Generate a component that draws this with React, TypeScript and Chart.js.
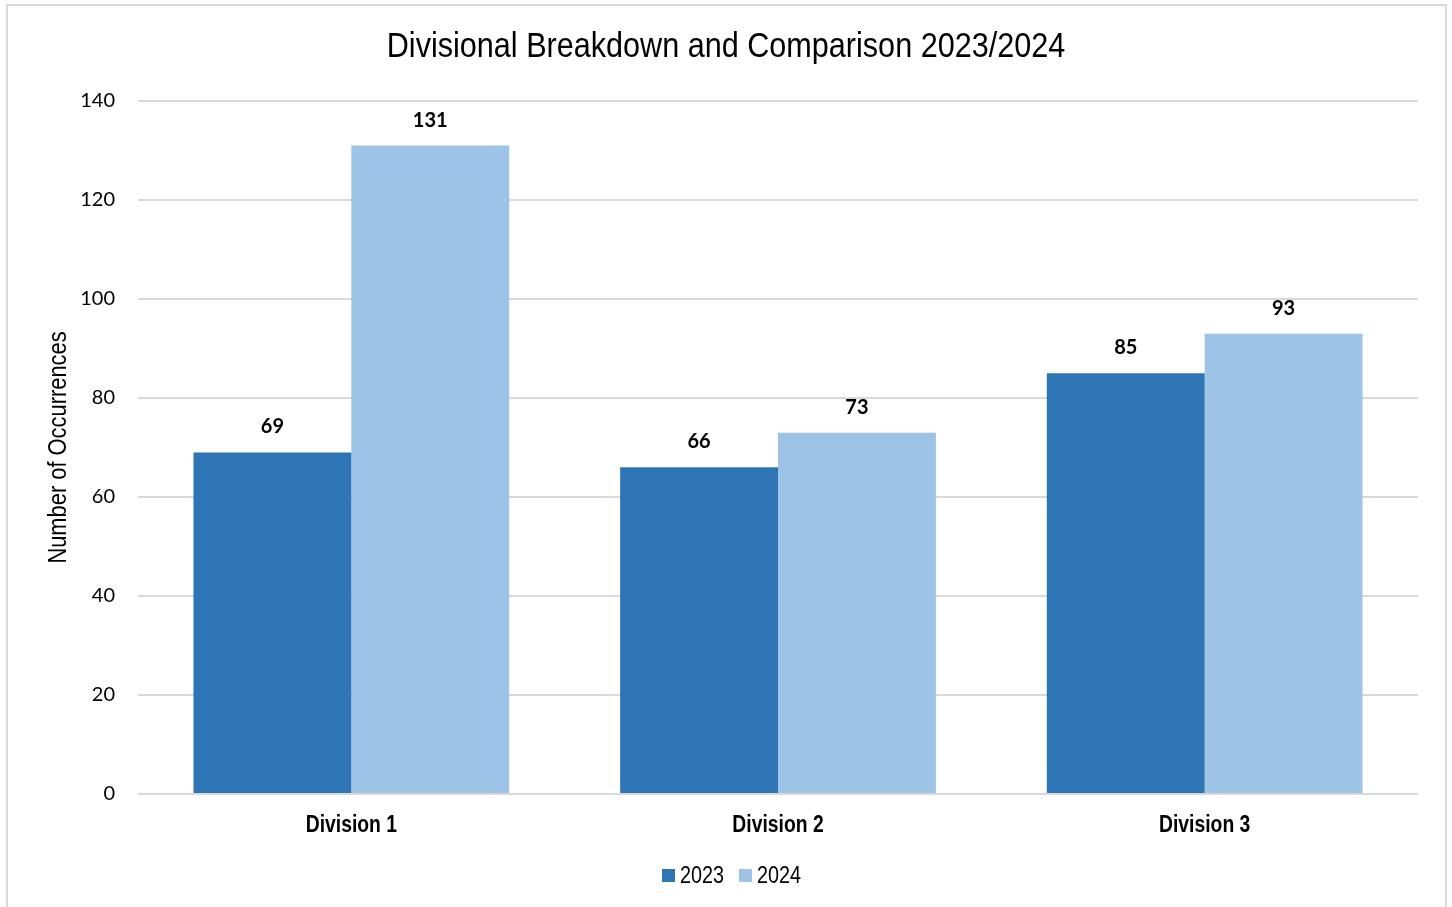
import React, { useEffect, useRef } from "react";
import { Chart, registerables } from "chart.js";

Chart.register(...registerables);

const categories = ["Division 1", "Division 2", "Division 3"];
const series2023 = [69, 66, 85];
const series2024 = [131, 73, 93];
const seriesLabels = ["2023", "2024"];
const seriesColors = ["#2E75B6", "#9DC3E6"];
const yTicks = [0, 20, 40, 60, 80, 100, 120, 140];
const chartTitle = "Divisional Breakdown and Comparison 2023/2024";
const yAxisTitle = "Number of Occurrences";

const SANS = "'Liberation Sans', Arial, sans-serif";
const BODY = "Lato, 'Open Sans', sans-serif";

function drawNarrow(ctx: any, text: string, x: number, y: number, sx: number, font: string, align: CanvasTextAlign, rotate = 0) {
  ctx.save();
  ctx.font = font;
  ctx.fillStyle = "#000";
  ctx.textAlign = align;
  ctx.textBaseline = "alphabetic";
  ctx.translate(x, y);
  if (rotate) ctx.rotate(rotate);
  ctx.scale(sx, 1);
  ctx.fillText(text, 0, 0);
  ctx.restore();
}

const textPlugin = {
  id: "narrowText",
  afterDraw(chart: any) {
    const ctx = chart.ctx;
    const area = chart.chartArea;
    // title
    drawNarrow(ctx, chartTitle, (6 + 1446) / 2, 57, 0.874, `35px ${SANS}`, "center");
    // y axis title
    drawNarrow(ctx, yAxisTitle, 66, (area.top + area.bottom) / 2, 0.875, `25px ${SANS}`, "center", -Math.PI / 2);
    // category labels
    const xs = chart.scales.x;
    categories.forEach((c, i) => {
      drawNarrow(ctx, c, xs.getPixelForTick(i), 832, 0.84, `bold 23px ${SANS}`, "center");
    });
    // legend
    ctx.save();
    ctx.font = `23px ${SANS}`;
    const boxes = [662, 739];
    seriesLabels.forEach((lab, i) => {
      ctx.fillStyle = seriesColors[i];
      ctx.fillRect(boxes[i], 869, 13, 13);
      drawNarrow(ctx, lab, boxes[i] + 18, 883, 0.86, `23px ${SANS}`, "left");
    });
    ctx.restore();
  },
  afterDatasetsDraw(chart: any) {
    const ctx = chart.ctx;
    ctx.save();
    ctx.font = `bold 20px ${BODY}`;
    ctx.fillStyle = "#000";
    ctx.textAlign = "center";
    ctx.textBaseline = "alphabetic";
    chart.data.datasets.forEach((ds: any, i: number) => {
      const meta = chart.getDatasetMeta(i);
      meta.data.forEach((bar: any, j: number) => {
        ctx.fillText(String(ds.data[j]), bar.x, bar.y - 19);
      });
    });
    ctx.restore();
  },
};

export default function App() {
  const ref = useRef<HTMLCanvasElement | null>(null);

  useEffect(() => {
    if (!ref.current) return;
    const chart = new Chart(ref.current, {
      type: "bar",
      data: {
        labels: categories,
        datasets: [
          {
            label: seriesLabels[0],
            data: series2023,
            backgroundColor: seriesColors[0],
            categoryPercentage: 0.74,
            barPercentage: 1,
          },
          {
            label: seriesLabels[1],
            data: series2024,
            backgroundColor: seriesColors[1],
            categoryPercentage: 0.74,
            barPercentage: 1,
          },
        ],
      },
      options: {
        animation: false,
        responsive: false,
        maintainAspectRatio: false,
        layout: { padding: { left: 20, right: 34, top: 101, bottom: 0 } },
        plugins: {
          title: { display: false },
          legend: { display: false },
          tooltip: { enabled: false },
        },
        scales: {
          x: {
            grid: { display: false, drawTicks: false },
            border: { display: false },
            ticks: { display: false },
            afterFit: (scale: any) => {
              scale.height = 113;
            },
          },
          y: {
            min: 0,
            max: 140,
            afterBuildTicks: (scale: any) => {
              scale.ticks = yTicks.map((v) => ({ value: v }));
            },
            afterFit: (scale: any) => {
              scale.width = 118;
            },
            grid: { color: "#D9D9D9", lineWidth: 2, drawTicks: false },
            border: { display: false },
            ticks: {
              color: "#000",
              font: { family: BODY, size: 20 },
              padding: 23,
            },
          },
        },
      },
      plugins: [textPlugin],
    });
    return () => chart.destroy();
  }, []);

  return (
    <div style={{ position: "absolute", left: 0, top: 0, width: 1452, height: 907, background: "#fff", overflow: "hidden" }}>
      <div
        style={{
          position: "absolute",
          left: 6,
          top: 4,
          width: 1437,
          height: 920,
          border: "2px solid #D9D9D9",
        }}
      />
      <canvas ref={ref} width={1452} height={907} style={{ position: "absolute", left: 0, top: 0, display: "block" }} />
    </div>
  );
}
